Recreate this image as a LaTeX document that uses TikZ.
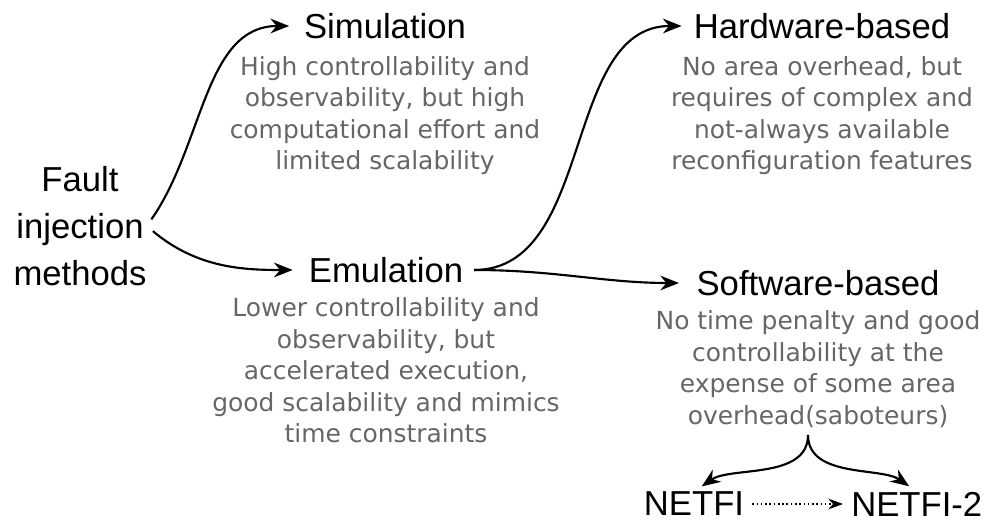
\documentclass[tikz,border=0pt]{standalone}
\usepackage{fontspec}
\setmainfont{Liberation Sans}
\newfontfamily\descfont{DejaVu Sans}
\usepackage{tikz}
\usetikzlibrary{positioning}
\usetikzlibrary{arrows.meta}
\definecolor{descgray}{HTML}{666666}

\begin{document}
\begin{tikzpicture}[x=0.75pt,y=0.75pt]
\tikzstyle{head}=[inner sep=0pt, align=center, font=\fontsize{26}{35}\selectfont]
\tikzstyle{desc}=[inner sep=0pt, align=center, text=descgray, font=\descfont\fontsize{18.7}{23.6}\selectfont]
\tikzstyle{connect}=[-{Stealth[length=14pt,width=11pt]}, line width=1.6pt]
\tikzstyle{dots}=[-{Stealth[length=11pt,width=8pt]}, line width=1.2pt, dotted]
\useasboundingbox (0,0) rectangle (987,527);
  \node[head] (fim) at (80,301) {Fault\\injection\\methods};
  \node[head] (sim) at (385,501) {Simulation};
  \node[desc] (simdesc) [below=13pt of sim] {High controllability and\\observability, but high\\computational effort and\\limited scalability};
  \node[head] (emu) at (386,257) {Emulation};
  \node[desc] (emudesc) [below=11pt of emu] {Lower controllability and\\observability, but\\accelerated execution,\\good scalability and mimics\\time constraints};
  \node[head] (hw) at (822,501) {Hardware-based};
  \node[desc] (hwdesc) [below=13pt of hw] {No area overhead, but\\requires of complex and\\not-always available\\reconfiguration features};
  \node[head] (sw) at (818,244) {Software-based};
  \node[desc] (swdesc) [below=11pt of sw] {No time penalty and good\\controllability at the\\expense of some area\\overhead(saboteurs)};
  \node[head] (netfi) at (694,23) {NETFI};
  \node[head] (netfitwo) [right=80pt of netfi] {NETFI-2};
  \coordinate (split) at (808,92);

  \path (fim.east) edge [connect, shorten <=6pt, shorten >=11pt, out=55, in=180] (sim.west);
  \path (fim.east) edge [connect, shorten <=6pt, shorten >=12pt, out=-40, in=180] (emu.west);
  \path (emu.east) edge [connect, shorten <=8pt, shorten >=9pt, out=0, in=180] (hw.west);
  \path (emu.east) edge [connect, shorten <=8pt, shorten >=13pt, out=0, in=180] (sw.west);
  \path (split) edge [connect, shorten >=7pt, out=-90, in=35, looseness=0.9] (netfi.north);
  \path (split) edge [connect, shorten >=7pt, out=-90, in=145, looseness=0.9] (netfitwo.north);
  \path (netfi.east) edge [dots, shorten <=6pt, shorten >=6pt] (netfitwo.west);
\end{tikzpicture}
\end{document}
